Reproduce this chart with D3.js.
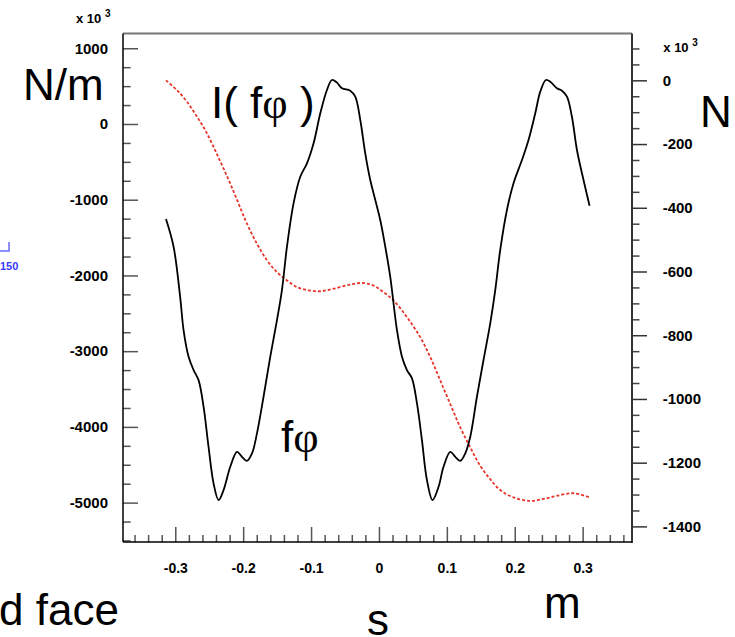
<!DOCTYPE html>
<html>
<head>
<meta charset="utf-8">
<script src="https://cdn.jsdelivr.net/npm/d3@7"></script>
<style>
  html, body { margin: 0; padding: 0; background: #fff; }
  svg { display: block; }
  .tick text { font-family: "Liberation Sans", Arial, sans-serif; font-weight: bold; fill: #000; }
  .big { font-family: "Liberation Sans", Arial, sans-serif; fill: #000; }
</style>
</head>
<body>
<script>
// Force density f_phi along s (left axis, x10^3 N/m)
const sForce = [-0.3137,-0.3025,-0.2926,-0.2878,-0.2804,-0.2730,-0.2657,-0.2583,-0.2510,-0.2436,-0.2362,-0.2289,-0.2190,-0.2091,-0.2018,-0.1944,-0.1870,-0.1797,-0.1700,-0.1601,-0.1502,-0.1429,-0.1355,-0.1258,-0.1159,-0.1060,-0.0963,-0.0864,-0.0766,-0.0692,-0.0619,-0.0545,-0.0423,-0.0349,-0.0275,-0.0202,-0.0128,-0.0054,0.0019,0.0093,0.0166,0.0265,0.0339,0.0412,0.0486,0.0560,0.0633,0.0707,0.0789,0.0878,0.0951,0.1050,0.1124,0.1197,0.1271,0.1345,0.1443,0.1540,0.1639,0.1713,0.1786,0.1885,0.1982,0.2106,0.2203,0.2302,0.2376,0.2459,0.2523,0.2621,0.2695,0.2769,0.2842,0.2916,0.3013,0.3102];
const fPhi = [-1255,-1621,-2302,-2721,-3074,-3250,-3382,-3735,-4263,-4747,-4967,-4835,-4527,-4329,-4395,-4448,-4350,-4086,-3602,-3074,-2589,-2193,-1621,-1048,-696,-519,-255,141,449,581,546,472,440,361,53,-387,-740,-1004,-1268,-1621,-2017,-2721,-3074,-3250,-3359,-3690,-4174,-4703,-4967,-4791,-4527,-4329,-4395,-4448,-4350,-4131,-3602,-3117,-2633,-2193,-1664,-1136,-783,-476,-211,141,427,581,559,472,440,361,96,-343,-740,-1079];

// Integrated force I(f_phi) along s (right axis, x10^3 N)
const sInt = [-0.3137,-0.2975,-0.2828,-0.2680,-0.2558,-0.2436,-0.2312,-0.2190,-0.2068,-0.1944,-0.1797,-0.1649,-0.1502,-0.1355,-0.1208,-0.1037,-0.0864,-0.0669,-0.0423,-0.0250,-0.0080,0.0068,0.0215,0.0412,0.0608,0.0756,0.0903,0.1050,0.1197,0.1345,0.1492,0.1639,0.1786,0.1982,0.2228,0.2424,0.2621,0.2866,0.3102];
const intF = [0,-31,-67,-114,-157,-209,-266,-324,-387,-450,-513,-565,-602,-628,-649,-659,-662,-654,-641,-636,-644,-665,-691,-743,-806,-869,-942,-1016,-1089,-1152,-1210,-1252,-1286,-1309,-1320,-1314,-1304,-1296,-1309];

// Axis ticks
const xTicks = [-0.3,-0.2,-0.1,0,0.1,0.2,0.3];
const xTickLabels = ["-0.3","-0.2","-0.1","0","0.1","0.2","0.3"];
const yLeftTicks = [-5000,-4000,-3000,-2000,-1000,0,1000];
const yRightTicks = [-1400,-1200,-1000,-800,-600,-400,-200,0];

const W = 735, H = 637;
const L = 123, R = 632, T = 33.5, B = 542;

const svg = d3.select("body").append("svg").attr("width", W).attr("height", H);
svg.append("rect").attr("width", W).attr("height", H).attr("fill", "#fff");

const x = d3.scaleLinear().domain([-0.377, 0.3727]).range([L, R]);
const yL = d3.scaleLinear().domain([-5520, 1195]).range([B, T]);
const yR = d3.scaleLinear().domain([-1449, 147]).range([B, T]);

const fmtX = (v, i) => xTickLabels[i];
const fmtY = v => String(v); // plain hyphen-minus

// minor ticks
const xMinor = d3.range(-36, 38, 2).map(v => v / 100).filter(v => Math.abs(Math.round(v * 100) % 10) !== 0);
const yLMinor = d3.range(-5500, 1200, 250).filter(v => v % 1000 !== 0);
const yRMinor = d3.range(-1450, 150, 50).filter(v => v % 200 !== 0 && v >= -1449);

function style(g, col) {
  g.select(".domain").remove();
  g.selectAll(".tick line").attr("stroke", col).attr("stroke-width", 1.5);
}

// bottom axis
svg.append("g").attr("transform", `translate(0,${B})`)
  .call(d3.axisBottom(x).tickValues(xMinor).tickSize(-7).tickFormat(""))
  .call(g => style(g, "#555"));
svg.append("g").attr("transform", `translate(0,${B})`)
  .call(d3.axisBottom(x).tickValues(xTicks).tickSize(-15).tickPadding(21).tickFormat(fmtX))
  .call(g => style(g, "#555"))
  .call(g => g.selectAll(".tick text").attr("font-size", 14));

// left axis
svg.append("g").attr("transform", `translate(${L},0)`)
  .call(d3.axisLeft(yL).tickValues(yLMinor).tickSize(-7.7).tickFormat(""))
  .call(g => style(g, "#555"));
svg.append("g").attr("transform", `translate(${L},0)`)
  .call(d3.axisLeft(yL).tickValues(yLeftTicks).tickSize(-15).tickPadding(15).tickFormat(fmtY))
  .call(g => style(g, "#555"))
  .call(g => g.selectAll(".tick text").attr("font-size", 15));

// right axis
svg.append("g").attr("transform", `translate(${R},0)`)
  .call(d3.axisRight(yR).tickValues(yRMinor).tickSize(7.5).tickFormat(""))
  .call(g => style(g, "#444"));
svg.append("g").attr("transform", `translate(${R},0)`)
  .call(d3.axisRight(yR).tickValues(yRightTicks).tickSize(15).tickPadding(15.7).tickFormat(fmtY))
  .call(g => style(g, "#333"))
  .call(g => g.selectAll(".tick text").attr("font-size", 15));

// frame lines
svg.append("line").attr("x1", L).attr("x2", R).attr("y1", T).attr("y2", T).attr("stroke", "#777").attr("stroke-width", 2);
svg.append("line").attr("x1", L).attr("x2", L).attr("y1", T).attr("y2", B).attr("stroke", "#000").attr("stroke-width", 1.5);
svg.append("line").attr("x1", R).attr("x2", R).attr("y1", T).attr("y2", B + 1).attr("stroke", "#333").attr("stroke-width", 2);
svg.append("line").attr("x1", L).attr("x2", R).attr("y1", B).attr("y2", B).attr("stroke", "#000").attr("stroke-width", 1.5);

// curves
const lineF = d3.line().x((d, i) => x(sForce[i])).y(d => yL(d)).curve(d3.curveCatmullRom.alpha(0.5));
const lineI = d3.line().x((d, i) => x(sInt[i])).y(d => yR(d)).curve(d3.curveCatmullRom.alpha(0.5));

svg.append("path").attr("d", lineI(intF)).attr("fill", "none")
  .attr("stroke", "#e8352b").attr("stroke-width", 1.8).attr("stroke-dasharray", "3,2");
svg.append("path").attr("d", lineF(fPhi)).attr("fill", "none")
  .attr("stroke", "#000").attr("stroke-width", 1.8);

// axis multipliers
function mult(xp, yb) {
  const t = svg.append("text").attr("x", xp).attr("y", yb)
    .attr("font-family", "Liberation Sans, Arial, sans-serif").attr("font-weight", "bold").attr("font-size", 13);
  t.append("tspan").text("x 10 ");
  t.append("tspan").attr("font-size", 10).attr("dy", -6).text("3");
}
mult(76, 22.7);
mult(663.3, 51.7);

// large labels
const big = (txt, xp, yb, size) => svg.append("text").attr("class", "big")
  .attr("x", xp).attr("y", yb).attr("font-size", size).text(txt);
big("N/m", 23, 100, 44);
big("N", 700, 126.7, 44);
big("s", 367, 634.5, 44);
big("m", 544, 618, 44);
big("d face", -1, 625, 44);

const lab1 = svg.append("text").attr("class", "big").attr("x", 211).attr("y", 118.3).attr("font-size", 44);
lab1.append("tspan").text("I( f");
lab1.append("tspan").attr("font-family", "Liberation Serif, Times New Roman, serif").text("φ");
lab1.append("tspan").text(" )");

const lab2 = svg.append("text").attr("class", "big").attr("x", 281).attr("y", 451.7).attr("font-size", 44);
lab2.append("tspan").text("f");
lab2.append("tspan").attr("font-family", "Liberation Serif, Times New Roman, serif").text("φ");

// small blue marker at left edge
svg.append("path").attr("d", "M0,251H9V242").attr("fill", "none").attr("stroke", "#6b6bff").attr("stroke-width", 1.5);
svg.append("text").attr("x", 0).attr("y", 270).attr("font-family", "Liberation Sans, Arial, sans-serif")
  .attr("font-weight", "bold").attr("font-size", 11).attr("fill", "#3a3aff").text("150");
</script>
</body>
</html>
